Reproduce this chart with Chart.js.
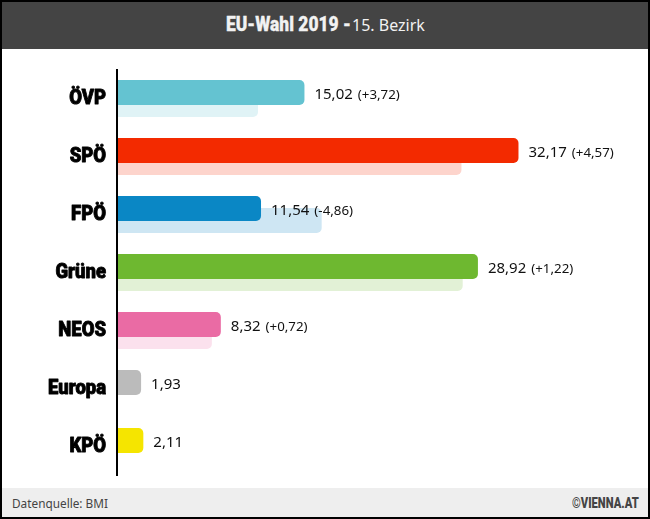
<!DOCTYPE html>
<html>
<head>
<meta charset="utf-8">
<title>EU-Wahl 2019 - 15. Bezirk</title>
<script src="https://cdn.jsdelivr.net/npm/chart.js@4/dist/chart.umd.min.js"></script>
<style>
html, body { margin: 0; padding: 0; background: #000; }
#frame { position: absolute; left: 2px; top: 2px; width: 646px; height: 515px; background: #fff; overflow: hidden; }
#header { position: absolute; left: 0; top: 0; width: 646px; height: 47px; line-height: 47px; background: #444; color: #f2f2f2; font-family: "Noto Sans", sans-serif; font-size: 16px; }
#header b { position: absolute; left: 224px; top: -1px; font-family: Roboto, sans-serif; font-size: 21px; font-weight: 900; white-space: nowrap; -webkit-text-stroke: 0.3px #f2f2f2; transform: scaleX(0.83); transform-origin: left center; }
#header span { position: absolute; left: 350px; top: 0; white-space: nowrap; }
#footer { position: absolute; left: 0; top: 486px; width: 646px; height: 29px; line-height: 31px; background: #eee; color: #444; font-family: "Noto Sans", sans-serif; font-size: 11.8px; }
#source { position: absolute; left: 10px; }
#brand { position: absolute; left: 570px; font-family: Roboto, sans-serif; font-weight: 900; font-size: 14px; white-space: nowrap; transform: scaleX(0.8); transform-origin: left center; }
#chartbox { position: absolute; left: -2px; top: 47px; width: 650px; height: 439px; }
</style>
</head>
<body>
<div id="frame">
    <div id="header"><b>EU-Wahl 2019 -</b><span>15. Bezirk</span></div>
    <div id="chartbox"><canvas id="mycanvas" width="650" height="439"></canvas></div>
    <div id="footer"><span id="source">Datenquelle: BMI</span><span id="brand">©VIENNA.AT</span></div>
</div>
<script>
var parties = ["ÖVP", "SPÖ", "FPÖ", "Grüne", "NEOS", "Europa", "KPÖ"];
var result2019 = [15.02, 32.17, 11.54, 28.92, 8.32, 1.93, 2.11];
var result2014 = [11.30, 27.60, 16.40, 27.70, 7.60, null, null];
var changes = ["+3,72", "+4,57", "-4,86", "+1,22", "+0,72", null, null];
var colors2019 = ["#64c3d1", "#f32a00", "#0a87c5", "#6eb830", "#ea6ba4", "#bbbbbb", "#f5e500"];
var colors2014 = ["#e0f3f6", "#fdd4cc", "#cee6f3", "#e2f1d6", "#fbe1ed", "#eeeeee", "#fdfacc"];

// Value labels next to the bars, party names in a narrow heavy face
var textLabels = {
    id: "textLabels",
    afterDatasetsDraw: function(chart) {
        var ctx = chart.ctx;
        var bars = chart.getDatasetMeta(0).data;
        var yScale = chart.scales.y;
        ctx.save();
        ctx.fillStyle = "#111";
        ctx.textBaseline = "middle";
        ctx.textAlign = "left";
        for (var i in bars) {
            var x = bars[i].x + 10;
            var y = bars[i].y + 2;
            var text = result2019[i].toFixed(2).replace(".", ",");
            ctx.font = "15px 'Noto Sans'";
            ctx.fillText(text, x, y);
            if (changes[i]) {
                var w = ctx.measureText(text).width;
                ctx.font = "13.3px 'Noto Sans'";
                ctx.fillText("(" + changes[i] + ")", x + w + 5, y + 1);
            }
        }
        ctx.fillStyle = "#000";
        ctx.strokeStyle = "#000";
        ctx.lineWidth = 0.9;
        ctx.lineJoin = "round";
        ctx.textAlign = "right";
        ctx.font = "900 21px Roboto";
        for (var j in parties) {
            ctx.save();
            ctx.translate(106, yScale.getPixelForTick(Number(j)) + 0.5);
            ctx.scale(0.88, 1);
            ctx.fillText(parties[j], 0, 0);
            ctx.strokeText(parties[j], 0, 0);
            ctx.restore();
        }
        ctx.restore();
    }
};

var chartdata = {
    labels: parties,
    datasets: [{
        label: "2019",
        data: result2019,
        backgroundColor: colors2019
    }, {
        label: "2014",
        data: result2014,
        backgroundColor: colors2014
    }]
};

new Chart(document.getElementById("mycanvas"), {
    type: "bar",
    data: chartdata,
    plugins: [textLabels],
    options: {
        indexAxis: "y",
        responsive: false,
        animation: false,
        // slots of 12px with 25px bars, so the pale bar sits behind the main one
        categoryPercentage: 24 / 58,
        barPercentage: 25 / 12,
        borderRadius: { topRight: 5, bottomRight: 5 },
        borderSkipped: "start",
        layout: { padding: { top: 20.5, bottom: 12.5, right: 33.8, left: 0 } },
        plugins: {
            legend: { display: false },
            title: { display: false },
            tooltip: { enabled: false }
        },
        scales: {
            x: { display: false, min: 0, max: 40 },
            y: {
                afterFit: function(scale) { scale.width = 117; },
                border: { color: "#000", width: 2, z: 2 },
                grid: { display: false, drawTicks: false },
                ticks: { display: false }
            }
        }
    }
});
</script>
</body>
</html>
